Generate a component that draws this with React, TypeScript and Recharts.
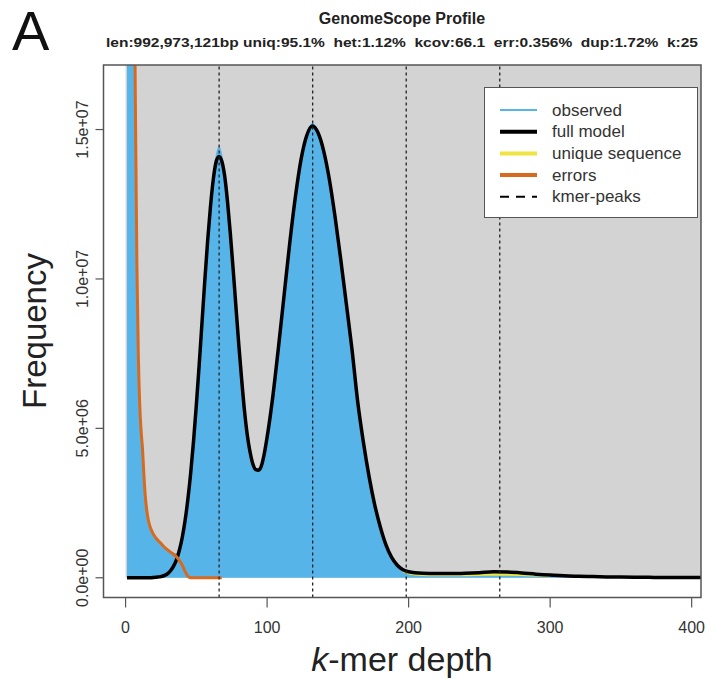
import React from 'react';
import { ComposedChart, Area, Line, XAxis, YAxis, ReferenceLine, ReferenceArea, Legend } from 'recharts';

// k-mer depth grid for observed histogram and full model
const depth = [1,2,3,4,5,6,7,8,9,10,11,12,13,14,15,16,
  18,20,22,24,26,28,30,32,34,36,38,40,42,44,46,48,50,52,54,56,58,60,62,64,66,68,70,72,74,76,78,80,82,84,86,88,90,92,94,96,98,100,
  104,108,112,116,120,124,128,132,136,140,144,148,152,156,160,164,168,172,176,180,184,188,192,196,200,
  210,220,230,240,250,260,270,280,290,300,310,320,330,340,350,360,370,380,390,400,410];

// frequencies in millions
const observedFreq = [200,150,100,60,35,22,15.5,10.5,7.5,5.8,4.9,4.3,3.4,2.7,2.25,1.95,
  1.62,1.43,1.3,1.2,1.1,1.0,0.93,0.87,0.82,0.8,
  0.95,1.36,1.92,2.64,3.52,4.58,5.8,7.14,8.56,9.98,
  11.3,12.48,13.45,14.12,14.42,14.15,13.5,12.62,11.55,10.35,
  9.08,7.82,6.66,5.6,4.78,4.2,3.82,3.63,3.6,3.76,
  4.15,4.7,
  6.05,7.7,9.45,11.2,12.75,14.0,14.85,15.2,
  14.95,14.3,13.35,12.1,10.68,9.17,7.65,5.92,
  4.56,3.41,2.46,1.71,1.1,0.68,0.42,0.27,0.2,
  0.15,0.14,0.14,0.15,0.17,0.2,0.19,0.16,0.12,0.09,0.07,0.05,0.04,0.03,0.025,0.02,0.015,0.01,0.01,0.01,0.01];

const modelFreq = [0,0,0,0,0,0,0,0,0,0,0,0,0,0,0,0,
  0,0.01,0.02,0.03,0.05,0.09,0.15,0.25,0.4,0.61,
  0.92,1.34,1.9,2.62,3.5,4.56,5.78,7.12,8.54,9.96,
  11.28,12.43,13.34,13.92,14.1,13.94,13.45,12.6,11.53,10.33,
  9.06,7.8,6.65,5.6,4.78,4.2,3.8,3.62,3.6,3.75,
  4.15,4.7,
  6.05,7.7,9.45,11.2,12.75,14.0,14.8,15.12,
  14.89,14.28,13.33,12.09,10.67,9.16,7.64,5.9,
  4.55,3.4,2.45,1.7,1.1,0.68,0.42,0.27,0.2,
  0.15,0.14,0.14,0.15,0.17,0.2,0.19,0.16,0.12,0.09,0.07,0.05,0.04,0.03,0.025,0.02,0.015,0.01,0.01,0.01,0.01];

const errorsDepth = [1,2,3,4,5,6,7,8,9,10,11,12,13,14,15,16,
  18,20,22,24,26,28,30,32,34,36,38,40,42,44,46,48,50,52,54,56,58,60,62,64,66,68];
const errorsFreq = [200,150,100,60,35,22,15.5,10.5,7.5,5.8,4.9,4.3,3.4,2.7,2.25,1.95,
  1.62,1.43,1.3,1.2,1.1,1.0,0.92,0.85,0.78,0.7,
  0.58,0.42,0.22,0.05,0,0,0,0,0,0,
  0,0,0,0,0,0];

const uniqueDepth = [196,200,210,220,230,240,250,260,270,280,290,300];
const uniqueFreq = [0.24,0.16,0.11,0.1,0.1,0.1,0.11,0.12,0.12,0.11,0.09,0.07];

const peakDepths = [66.1, 132.2, 198.3, 264.4];
const xTicks = [0, 100, 200, 300, 400];
const yTicks = [0, 5, 10, 15];
const yTickLabels = ['0.0e+00', '5.0e+06', '1.0e+07', '1.5e+07'];

const legendItems = [
  { label: 'observed', color: '#56B4E9', width: 2, dash: '' },
  { label: 'full model', color: '#000000', width: 4, dash: '' },
  { label: 'unique sequence', color: '#F0E442', width: 4, dash: '' },
  { label: 'errors', color: '#D86A1F', width: 4, dash: '' },
  { label: 'kmer-peaks', color: '#000000', width: 2, dash: '9 7' },
];

const data = depth.map((d, i) => {
  const ei = errorsDepth.indexOf(d);
  const ui = uniqueDepth.indexOf(d);
  return {
    depth: d,
    observed: observedFreq[i],
    model: modelFreq[i],
    errors: ei >= 0 ? errorsFreq[ei] : null,
    unique: ui >= 0 ? uniqueFreq[ui] : null,
  };
});

const FONT = '"Liberation Sans", Arial, Helvetica, sans-serif';

const XTick = (props: any) => {
  const { x, payload } = props;
  return (
    <text x={x} y={633} textAnchor="middle" fontSize={16} fontFamily={FONT} fill="#333">
      {payload.value}
    </text>
  );
};

const YTick = (props: any) => {
  const { y, payload } = props;
  const idx = yTicks.indexOf(payload.value);
  const lx = 88;
  return (
    <text x={lx} y={y} transform={`rotate(-90, ${lx}, ${y})`} textAnchor="middle" fontSize={16} fontFamily={FONT} fill="#333">
      {idx >= 0 ? yTickLabels[idx] : ''}
    </text>
  );
};

const LegendBox = () => (
  <svg width={214} height={131} style={{ display: 'block' }}>
    <rect x={0.5} y={0.5} width={213} height={130} fill="#ffffff" stroke="#555" strokeWidth={1} />
    {legendItems.map((it, i) => {
      const cy = 23 + i * 21.7;
      return (
        <g key={it.label}>
          <line x1={16} x2={53} y1={cy} y2={cy} stroke={it.color} strokeWidth={it.width} strokeDasharray={it.dash || undefined} />
          <text x={68} y={cy} dominantBaseline="central" fontSize={17} fontFamily={FONT} fill="#333">{it.label}</text>
        </g>
      );
    })}
  </svg>
);

export default function App() {
  return (
    <div style={{ position: 'absolute', left: 0, top: 0, width: 717, height: 679, background: '#fff' }}>
      <ComposedChart
        width={717}
        height={679}
        data={data}
        margin={{ top: 65, right: 16, bottom: 0, left: 0 }}
      >
        <ReferenceArea x1={0} x2={406.6} y1={0} y2={17.16} fill="#D3D3D3" fillOpacity={1} stroke="none" zIndex={-200} />
        <XAxis
          dataKey="depth"
          type="number"
          domain={[-15.6, 406.6]}
          allowDataOverflow
          ticks={xTicks}
          height={81.5}
          tickSize={10}
          axisLine={false}
          tickLine={{ stroke: '#555', strokeWidth: 1.2 }}
          tick={<XTick />}
          interval={0}
        />
        <YAxis
          type="number"
          domain={[-0.66, 17.16]}
          allowDataOverflow
          ticks={yTicks}
          width={103.5}
          tickSize={8}
          axisLine={false}
          tickLine={{ stroke: '#555', strokeWidth: 1.2 }}
          tick={<YTick />}
          interval={0}
        />
        <Area
          dataKey="observed"
          type="monotone"
          baseValue={0}
          fill="#56B4E9"
          fillOpacity={1}
          stroke="#56B4E9"
          strokeWidth={1}
          isAnimationActive={false}
          dot={false}
          activeDot={false}
        />
        <Line dataKey="unique" type="monotone" stroke="#F0E442" strokeWidth={3} dot={false} activeDot={false} isAnimationActive={false} />
        <Line dataKey="model" type="monotone" stroke="#000000" strokeWidth={3.5} dot={false} activeDot={false} isAnimationActive={false} />
        <Line dataKey="errors" type="monotone" stroke="#D86A1F" strokeWidth={3} dot={false} activeDot={false} isAnimationActive={false} />
        {peakDepths.map((p) => (
          <ReferenceLine key={p} x={p} stroke="#222" strokeWidth={1.3} strokeDasharray="3 3" zIndex={450} />
        ))}
        <ReferenceArea x1={-15.6} x2={406.6} y1={-0.66} y2={17.16} fill="none" fillOpacity={0} stroke="#555" strokeWidth={1.5} zIndex={460} />
        <Legend
          layout="horizontal"
          verticalAlign="middle"
          align="center"
          wrapperStyle={{ position: 'absolute', left: 484, top: 87, width: 214, height: 131, margin: 0, padding: 0 }}
          content={() => <LegendBox />}
        />
      </ComposedChart>
      <svg width={717} height={679} style={{ position: 'absolute', left: 0, top: 0, pointerEvents: 'none' }}>
        <text x={12} y={50} fontSize={56} fontFamily={FONT} fill="#111">A</text>
        <text x={402} y={24} textAnchor="middle" fontSize={16} fontWeight="bold" fontFamily={FONT} fill="#222">GenomeScope Profile</text>
        <text x={402} y={47} textAnchor="middle" fontSize={12} fontWeight="bold" fontFamily={FONT} fill="#222" textLength={592} lengthAdjust="spacingAndGlyphs" style={{ whiteSpace: 'pre' }}>
          {'len:992,973,121bp uniq:95.1%  het:1.12%  kcov:66.1  err:0.356%  dup:1.72%  k:25'}
        </text>
        <text x={46} y={331} transform="rotate(-90, 46, 331)" textAnchor="middle" fontSize={33} fontFamily={FONT} fill="#222">Frequency</text>
        <text x={402} y={671} textAnchor="middle" fontSize={34} fontFamily={FONT} fill="#222">
          <tspan fontStyle="italic">k</tspan>-mer depth
        </text>
      </svg>
    </div>
  );
}
